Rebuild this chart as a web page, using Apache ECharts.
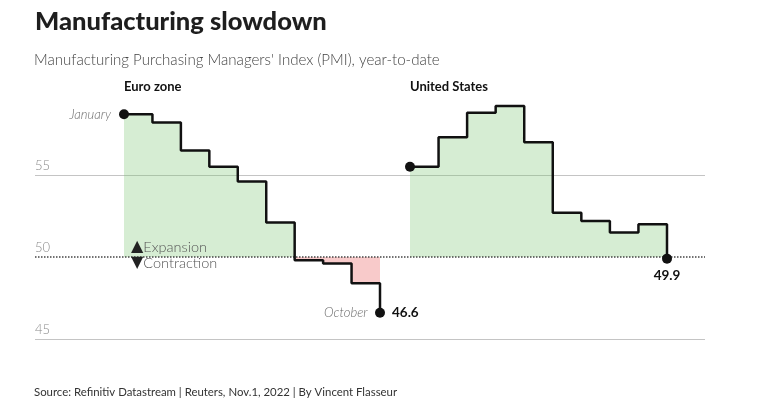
<!DOCTYPE html>
<html>
<head>
<meta charset="utf-8">
<script src="https://cdn.jsdelivr.net/npm/echarts@6/dist/echarts.min.js"></script>
<style>
html,body{margin:0;padding:0;background:#fff;}
#chart{width:777px;height:414px;}
</style>
</head>
<body>
<div id="chart"></div>
<script>
const months = ['January','February','March','April','May','June','July','August','September','October'];
const euroZone = [58.7, 58.2, 56.5, 55.5, 54.6, 52.1, 49.8, 49.6, 48.4, 46.6];
const unitedStates = [55.5, 57.3, 58.8, 59.2, 57.0, 52.7, 52.2, 51.5, 52.0, 49.9];
const yTicks = [45, 50, 55];
const threshold = 50;
const yMin = 45, yMax = 60, yStep = 5;

const FONT = 'Lato';
const chart = echarts.init(document.getElementById('chart'), null, {renderer: 'canvas'});

function yAx(idx, show) {
  return {
    type: 'value', gridIndex: idx, min: yMin, max: yMax, interval: yStep,
    show: show,
    axisLine: {show: false}, axisTick: {show: false},
    axisLabel: show ? {
      inside: true, margin: 0, verticalAlign: 'bottom', padding: [0, 0, 3, 0],
      color: '#8a8a8a', fontSize: 13, fontFamily: FONT, fontWeight: 300,
      formatter: v => yTicks.includes(v) ? String(v) : ''
    } : {show: false},
    splitLine: show ? {
      show: true,
      lineStyle: {color: ['#c4c4c4', 'rgba(0,0,0,0)', '#c4c4c4', 'rgba(0,0,0,0)'], width: 1}
    } : {show: false}
  };
}
function xAx(idx) {
  return {type: 'category', gridIndex: idx, data: months, boundaryGap: false, show: false};
}

const last = months.length - 1;

function areaSeries(axis, values, color, fn, extraLabel) {
  return {
    type: 'line', step: 'end', xAxisIndex: axis, yAxisIndex: axis,
    data: values.map((v, i) => {
      const item = {value: fn(v, threshold)};
      if (extraLabel && extraLabel[i]) item.label = extraLabel[i];
      return item;
    }),
    symbol: 'circle', showSymbol: true, showAllSymbol: true,
    symbolSize: 1,
    itemStyle: {color: 'rgba(0,0,0,0)'},
    lineStyle: {width: 0},
    areaStyle: {origin: threshold, color: color, opacity: 1},
    z: 2, silent: true, animation: false
  };
}

function lineSeries(axis, values, labels) {
  return {
    type: 'line', step: 'end', xAxisIndex: axis, yAxisIndex: axis,
    data: values.map((v, i) => {
      const item = {value: v};
      if (labels[i]) item.label = labels[i];
      return item;
    }),
    symbol: 'circle',
    symbolSize: (val, p) => (p.dataIndex === 0 || p.dataIndex === last) ? 10 : 0,
    showSymbol: true, showAllSymbol: true,
    itemStyle: {color: '#111'},
    lineStyle: {color: '#111', width: 2.5},
    z: 4, animation: false
  };
}

const italicLbl = (text, dist) => ({
  show: true, position: 'left', distance: dist, formatter: text,
  fontFamily: FONT, fontStyle: 'italic', fontWeight: 300, fontSize: 13, color: '#6a6a6a'
});
const boldLbl = (pos, dist) => ({
  show: true, position: pos, distance: dist, formatter: p => p.value.toFixed(1),
  fontFamily: FONT, fontWeight: 'bold', fontSize: 13.5, color: '#111'
});

const euroLineLabels = {0: italicLbl(months[0], 8), [last]: boldLbl('right', 7)};
const euroRedLabels = {[last]: italicLbl(months[last], 12)};
const usLineLabels = {[last]: boldLbl('bottom', 5)};

const option = {
  backgroundColor: '#fff',
  animation: false,
  title: [
    {text: 'Manufacturing slowdown', left: 30, top: 4,
     textStyle: {fontFamily: FONT, fontWeight: 900, fontSize: 25.5, color: '#1e1e1e'}},
    {text: "Manufacturing Purchasing Managers' Index (PMI), year-to-date", left: 29, top: 48,
     textStyle: {fontFamily: FONT, fontWeight: 300, fontSize: 15.1, color: '#444'}},
    {text: 'Euro zone', left: 119, top: 75,
     textStyle: {fontFamily: FONT, fontWeight: 'bold', fontSize: 13, color: '#111'}},
    {text: 'United States', left: 405, top: 75,
     textStyle: {fontFamily: FONT, fontWeight: 'bold', fontSize: 13, color: '#111'}},
    {text: 'Source: Refinitiv Datastream | Reuters, Nov.1, 2022 | By Vincent Flasseur', left: 29, top: 382,
     textStyle: {fontFamily: FONT, fontWeight: 'normal', fontSize: 11.4, color: '#333'}}
  ],
  grid: [
    {left: 35, width: 670, top: 93, height: 246},
    {left: 124, width: 256, top: 93, height: 246},
    {left: 410, width: 257, top: 93, height: 246}
  ],
  xAxis: [
    {type: 'value', gridIndex: 0, min: 0, max: 1, show: false},
    xAx(1), xAx(2)
  ],
  yAxis: [yAx(0, true), yAx(1, false), yAx(2, false)],
  graphic: [
    {type: 'text', left: 131, top: 239, z: 10,
     style: {text: '{t|▲}{l|Expansion}', rich: {
       t: {fontSize: 16, fill: '#222', fontFamily: 'DejaVu Sans', verticalAlign: 'middle'},
       l: {fontSize: 14.5, fill: '#555', fontFamily: FONT, fontWeight: 300, verticalAlign: 'middle'}}}},
    {type: 'text', left: 131, top: 255, z: 10,
     style: {text: '{t|▼}{l|Contraction}', rich: {
       t: {fontSize: 16, fill: '#222', fontFamily: 'DejaVu Sans', verticalAlign: 'middle'},
       l: {fontSize: 14.5, fill: '#555', fontFamily: FONT, fontWeight: 300, verticalAlign: 'middle'}}}}
  ],
  series: [
    {type: 'line', xAxisIndex: 0, yAxisIndex: 0, data: [[0, threshold], [1, threshold]],
     symbol: 'none', lineStyle: {color: '#444', width: 1.5, type: [1.5, 1.5]}, z: 3, silent: true},
    areaSeries(1, euroZone, 'rgba(120,195,110,0.3)', (v, t) => Math.max(v, t)),
    areaSeries(1, euroZone, 'rgba(232,80,80,0.3)', (v, t) => Math.min(v, t), euroRedLabels),
    lineSeries(1, euroZone, euroLineLabels),
    areaSeries(2, unitedStates, 'rgba(120,195,110,0.3)', (v, t) => Math.max(v, t)),
    areaSeries(2, unitedStates, 'rgba(232,80,80,0.3)', (v, t) => Math.min(v, t)),
    lineSeries(2, unitedStates, usLineLabels)
  ]
};
chart.setOption(option);
</script>
</body>
</html>
